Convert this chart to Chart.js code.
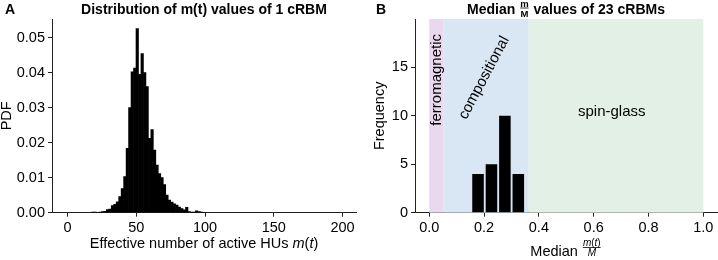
<!DOCTYPE html>
<html>
<head>
<meta charset="utf-8">
<script src="https://cdn.jsdelivr.net/npm/chart.js@4.4.0/dist/chart.umd.min.js"></script>
<style>
html, body { margin: 0; padding: 0; background: #fff; }
#wrap { position: relative; width: 718px; height: 260px; }
.box { position: absolute; top: 0; height: 260px; }
</style>
</head>
<body>
<div id="wrap">
  <div class="box" style="left:0;width:360px"><canvas id="chartA"></canvas></div>
  <div class="box" style="left:360px;width:358px"><canvas id="chartB"></canvas></div>
</div>
<script>
var FONT = '"Liberation Sans", Arial, Helvetica, sans-serif';
var FS = 14.5;

// panel A: histogram of m(t) for one cRBM (bin centres, bin width 1.8)
var pdfBinCenters = [18.3, 20.1, 21.9, 23.7, 25.5, 27.3, 29.1, 30.9, 32.7, 34.5, 36.3, 38.1, 39.9, 41.7, 43.5,
  45.3, 47.1, 48.9, 50.7, 52.5, 54.3, 56.1, 57.9, 59.7, 61.5, 63.3, 65.1, 66.9, 68.7, 70.5, 72.3, 74.1,
  75.9, 77.7, 79.5, 81.3, 83.1, 84.9, 86.7, 88.5, 90.3, 92.1, 93.9, 95.7, 97.5, 99.3];
var pdfValues = [0.0002, 0.0001, 0.0000, 0.0002, 0.0003, 0.0004, 0.0009, 0.0010, 0.0020, 0.0024, 0.0031,
  0.0046, 0.0069, 0.0103, 0.0184, 0.0300, 0.0402, 0.0413, 0.0526, 0.0395, 0.0454, 0.0400, 0.0360, 0.0212,
  0.0237, 0.0179, 0.0136, 0.0112, 0.0100, 0.0080, 0.0050, 0.0036, 0.0030, 0.0025, 0.0022, 0.0016, 0.0012,
  0.0008, 0.0015, 0.0003, 0.0002, 0.0001, 0.0005, 0.0003, 0.0001, 0.0000];
var xTicksA = [0, 50, 100, 150, 200];
var yTicksA = [0, 0.01, 0.02, 0.03, 0.04, 0.05];

// panel B: median m/M of 23 cRBMs
var medianBinCenters = [0.178, 0.227, 0.276, 0.325];
var medianCounts = [4, 5, 10, 4];
var xTicksB = [0, 0.2, 0.4, 0.6, 0.8, 1.0];
var yTicksB = [0, 5, 10, 15];
var regimeNames = ['ferromagnetic', 'compositional', 'spin-glass'];
var regimeEdges = [0, 0.051, 0.363, 1.0];
var regimeColors = ['#ead8ef', '#d9e7f5', '#e3f0e5'];

// measure / draw a list of text runs, fractions allowed
function runsWidth(ctx, runs) {
  var w = 0;
  runs.forEach(function (r) {
    if (r.num) {
      r.w = Math.max(runsWidth(ctx, r.num), runsWidth(ctx, r.den)) + 2;
    } else {
      ctx.font = r.f;
      r.w = ctx.measureText(r.t).width;
    }
    w += r.w;
  });
  return w;
}
function drawRuns(ctx, runs, x, base, align) {
  var total = runsWidth(ctx, runs);
  if (align === 'center') x -= total / 2;
  ctx.textAlign = 'left';
  ctx.textBaseline = 'alphabetic';
  runs.forEach(function (r) {
    if (r.num) {
      var ly = base - r.lift;
      var nw = runsWidth(ctx, r.num), dw = runsWidth(ctx, r.den);
      drawRuns(ctx, r.num, x + (r.w - nw) / 2, ly - r.gapUp);
      drawRuns(ctx, r.den, x + (r.w - dw) / 2, ly + r.gapDown);
      ctx.fillRect(x + 1, ly - 0.4, r.w - 2, 0.8);
    } else {
      ctx.font = r.f;
      ctx.fillText(r.t, x, base);
    }
    x += r.w;
  });
}

function fixTicks(arr) {
  return function (scale) { scale.ticks = arr.map(function (v) { return { value: v }; }); };
}
function axis(min, max, ticksArr, dec, isY, size) {
  return {
    type: 'linear', min: min, max: max, offset: false,
    afterBuildTicks: fixTicks(ticksArr),
    afterFit: function (s) { if (isY) s.width = size; else s.height = size; },
    border: { display: true, color: '#222', width: 1 },
    grid: { display: true, drawOnChartArea: false, drawTicks: true, tickLength: 4, color: '#222', offset: false },
    ticks: {
      padding: isY ? 3 : 3, color: '#000', font: { family: FONT, size: FS },
      maxRotation: 0, autoSkip: false,
      callback: function (v) { return Number(v).toFixed(dec); }
    }
  };
}

var textA = {
  id: 'textA',
  afterDraw: function (chart) {
    var ctx = chart.ctx, a = chart.chartArea;
    var reg = FS + 'px ' + FONT, ital = 'italic ' + FS + 'px ' + FONT;
    ctx.save();
    ctx.fillStyle = '#000';
    ctx.font = 'bold 14px ' + FONT;
    ctx.textAlign = 'left';
    ctx.fillText('A', 5, 14);
    drawRuns(ctx, [{ t: 'Distribution of m(t) values of 1 cRBM', f: 'bold 14px ' + FONT }], (a.left + a.right) / 2, 14, 'center');
    drawRuns(ctx, [
      { t: 'Effective number of active HUs ', f: reg },
      { t: 'm', f: ital }, { t: '(', f: reg },
      { t: 't', f: ital }, { t: ')', f: reg }
    ], (a.left + a.right) / 2, 248, 'center');
    ctx.translate(11, (a.top + a.bottom) / 2);
    ctx.rotate(-Math.PI / 2);
    drawRuns(ctx, [{ t: 'PDF', f: reg }], 0, 0, 'center');
    ctx.restore();
  }
};

var regimes = {
  id: 'regimes',
  beforeDatasetsDraw: function (chart) {
    var ctx = chart.ctx, a = chart.chartArea, xs = chart.scales.x, ys = chart.scales.y;
    ctx.save();
    for (var i = 0; i < regimeNames.length; i++) {
      var x0 = xs.getPixelForValue(regimeEdges[i]), x1 = xs.getPixelForValue(regimeEdges[i + 1]);
      ctx.fillStyle = regimeColors[i];
      ctx.fillRect(x0, a.top, x1 - x0, a.bottom - a.top);
    }
    ctx.fillStyle = '#000';
    ctx.font = '15px ' + FONT;
    ctx.textAlign = 'center';
    ctx.textBaseline = 'middle';
    // ferromagnetic, vertical
    ctx.save();
    ctx.translate(xs.getPixelForValue(0.029), ys.getPixelForValue(13.7));
    ctx.rotate(-Math.PI / 2);
    ctx.fillText(regimeNames[0], 0, 0);
    ctx.restore();
    // compositional, tilted
    ctx.save();
    ctx.translate(xs.getPixelForValue(0.2), ys.getPixelForValue(13.9));
    ctx.rotate(-62 * Math.PI / 180);
    ctx.fillText(regimeNames[1], 0, 0);
    ctx.restore();
    ctx.fillText(regimeNames[2], xs.getPixelForValue(0.666), ys.getPixelForValue(10.4));
    ctx.restore();
  }
};

var textB = {
  id: 'textB',
  afterDraw: function (chart) {
    var ctx = chart.ctx, a = chart.chartArea;
    var reg = FS + 'px ' + FONT;
    ctx.save();
    ctx.fillStyle = '#000';
    ctx.font = 'bold 14px ' + FONT;
    ctx.textAlign = 'left';
    ctx.fillText('B', 16, 14);
    var b9 = 'bold 9.5px ' + FONT;
    drawRuns(ctx, [
      { t: 'Median ', f: 'bold 14px ' + FONT },
      { num: [{ t: 'm', f: b9 }], den: [{ t: 'M', f: b9 }], lift: 6, gapUp: 1.5, gapDown: 8.5 },
      { t: ' values of 23 cRBMs', f: 'bold 14px ' + FONT }
    ], (a.left + a.right) / 2, 14, 'center');
    var i9 = 'italic 10px ' + FONT, r9 = '10px ' + FONT;
    drawRuns(ctx, [
      { t: 'Median ', f: reg },
      { num: [{ t: 'm', f: i9 }, { t: '(', f: r9 }, { t: 't', f: i9 }, { t: ')', f: r9 }],
        den: [{ t: 'M', f: i9 }], lift: 8.5, gapUp: 2, gapDown: 8.5 }
    ], (a.left + a.right) / 2, 256, 'center');
    ctx.translate(24, (a.top + a.bottom) / 2);
    ctx.rotate(-Math.PI / 2);
    drawRuns(ctx, [{ t: 'Frequency', f: reg }], 0, 0, 'center');
    ctx.restore();
  }
};

Chart.defaults.font.family = FONT;

new Chart(document.getElementById('chartA'), {
  type: 'bar',
  data: {
    datasets: [{
      data: pdfBinCenters.map(function (c, i) { return { x: c, y: pdfValues[i] }; }),
      backgroundColor: '#000', borderWidth: 0,
      barPercentage: 1, categoryPercentage: 1
    }]
  },
  options: {
    responsive: true, maintainAspectRatio: false, animation: false,
    layout: { padding: { top: 19, right: 4, left: 0, bottom: 0 } },
    plugins: { legend: { display: false }, tooltip: { enabled: false } },
    scales: {
      x: axis(-11.3, 209.8, xTicksA, 0, false, 47.3),
      y: axis(0, 0.0553, yTicksA, 2, true, 52)
    }
  },
  plugins: [textA]
});

new Chart(document.getElementById('chartB'), {
  type: 'bar',
  data: {
    datasets: [{
      data: medianBinCenters.map(function (c, i) { return { x: c, y: medianCounts[i] }; }),
      backgroundColor: '#000', borderWidth: 0,
      barPercentage: 0.86, categoryPercentage: 1
    }]
  },
  options: {
    responsive: true, maintainAspectRatio: false, animation: false,
    layout: { padding: { top: 19, right: 1, left: 0, bottom: 0 } },
    plugins: { legend: { display: false }, tooltip: { enabled: false } },
    scales: {
      x: axis(-0.052, 1.05, xTicksB, 1, false, 47.3),
      y: axis(0, 19.97, yTicksB, 0, true, 55)
    }
  },
  plugins: [regimes, textB]
});
</script>
</body>
</html>
